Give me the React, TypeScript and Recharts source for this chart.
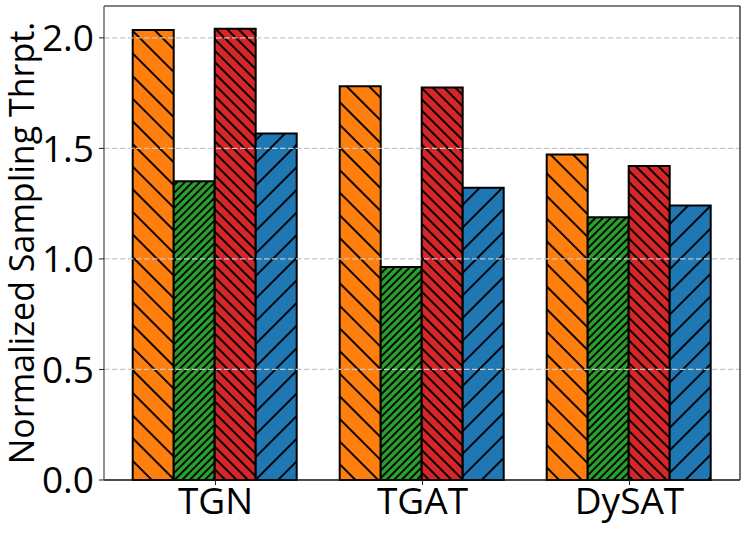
import { BarChart, Bar, XAxis, YAxis, ReferenceLine, Label } from 'recharts'

document.body.style.margin = '0'

const models = ['TGN', 'TGAT', 'DySAT']
const seriesA = [2.036, 1.781, 1.472]
const seriesB = [1.351, 0.963, 1.188]
const seriesC = [2.041, 1.775, 1.42]
const seriesD = [1.567, 1.322, 1.242]
const yTicks = [0, 0.5, 1.0, 1.5, 2.0]
const yMax = 2.144

const FONT = '"Open Sans", sans-serif'

// one entry per series: colour, hatch direction and hatch spacing
const series = [
  { key: 'a', values: seriesA, color: '#ff7f0e', angle: -45, gap: 16 },
  { key: 'b', values: seriesB, color: '#2ca02c', angle: 45, gap: 5.35 },
  { key: 'c', values: seriesC, color: '#d62728', angle: -45, gap: 8 },
  { key: 'd', values: seriesD, color: '#1f77b4', angle: 45, gap: 16 },
]

const data = models.map((m, i) => {
  const row: Record<string, string | number> = { model: m }
  series.forEach((s) => {
    row[s.key] = s.values[i]
  })
  return row
})

function YTitle(props: any) {
  const vb = props.viewBox || { x: 0, y: 0, width: 0, height: 0 }
  const cx = vb.x + 34
  const cy = vb.y + vb.height / 2
  return (
    <text
      x={cx}
      y={cy}
      transform={`rotate(-90, ${cx}, ${cy})`}
      textAnchor="middle"
      fontSize={34}
      fontFamily={FONT}
      fill="#000"
    >
      Normalized Sampling Thrpt.
    </text>
  )
}

export default function App() {
  return (
    <BarChart
      width={747}
      height={533}
      data={data}
      margin={{ top: 5, right: 6, bottom: 0, left: 0 }}
      barCategoryGap="10%"
      barGap={0}
    >
      <defs>
        {series.map((s) => (
          <pattern
            key={s.key}
            id={`hatch-${s.key}`}
            patternUnits="userSpaceOnUse"
            width={s.gap}
            height={s.gap}
            patternTransform={`rotate(${s.angle})`}
          >
            <rect width={s.gap} height={s.gap} fill={s.color} />
            <line
              x1={s.gap / 2}
              y1={0}
              x2={s.gap / 2}
              y2={s.gap}
              stroke="#000"
              strokeWidth={1.9}
            />
          </pattern>
        ))}
      </defs>
      <XAxis
        dataKey="model"
        height={53}
        padding={{ left: 8, right: 7 }}
        tickSize={5}
        tickMargin={3}
        axisLine={{ stroke: '#111', strokeWidth: 1.3 }}
        tickLine={{ stroke: '#222' }}
        tick={{ fill: '#000', fontSize: 37, fontFamily: FONT }}
        interval={0}
      />
      <XAxis
        xAxisId="top"
        orientation="top"
        dataKey="model"
        height={1}
        tick={false}
        tickLine={false}
        axisLine={{ stroke: '#555', strokeWidth: 1.3 }}
      />
      <YAxis
        domain={[0, yMax]}
        ticks={yTicks}
        width={104}
        tickSize={5}
        tickMargin={5}
        tickFormatter={(v: number) => v.toFixed(1)}
        axisLine={{ stroke: '#555', strokeWidth: 1.3 }}
        tickLine={{ stroke: '#222' }}
        tick={{ fill: '#000', fontSize: 37, fontFamily: FONT }}
      >
        <Label content={<YTitle />} />
      </YAxis>
      <YAxis
        yAxisId="right"
        orientation="right"
        domain={[0, yMax]}
        width={1}
        tick={false}
        tickLine={false}
        axisLine={{ stroke: '#222', strokeWidth: 1.3 }}
      />
      {series.map((s) => (
        <Bar
          key={s.key}
          dataKey={s.key}
          fill={`url(#hatch-${s.key})`}
          stroke="#000"
          strokeWidth={2}
          isAnimationActive={false}
        />
      ))}
      {yTicks
        .filter((t) => t > 0)
        .map((t) => (
          <ReferenceLine
            key={t}
            y={t}
            stroke="#c8c8c8"
            strokeWidth={1.3}
            strokeDasharray="5.5 2.5"
          />
        ))}
    </BarChart>
  )
}
